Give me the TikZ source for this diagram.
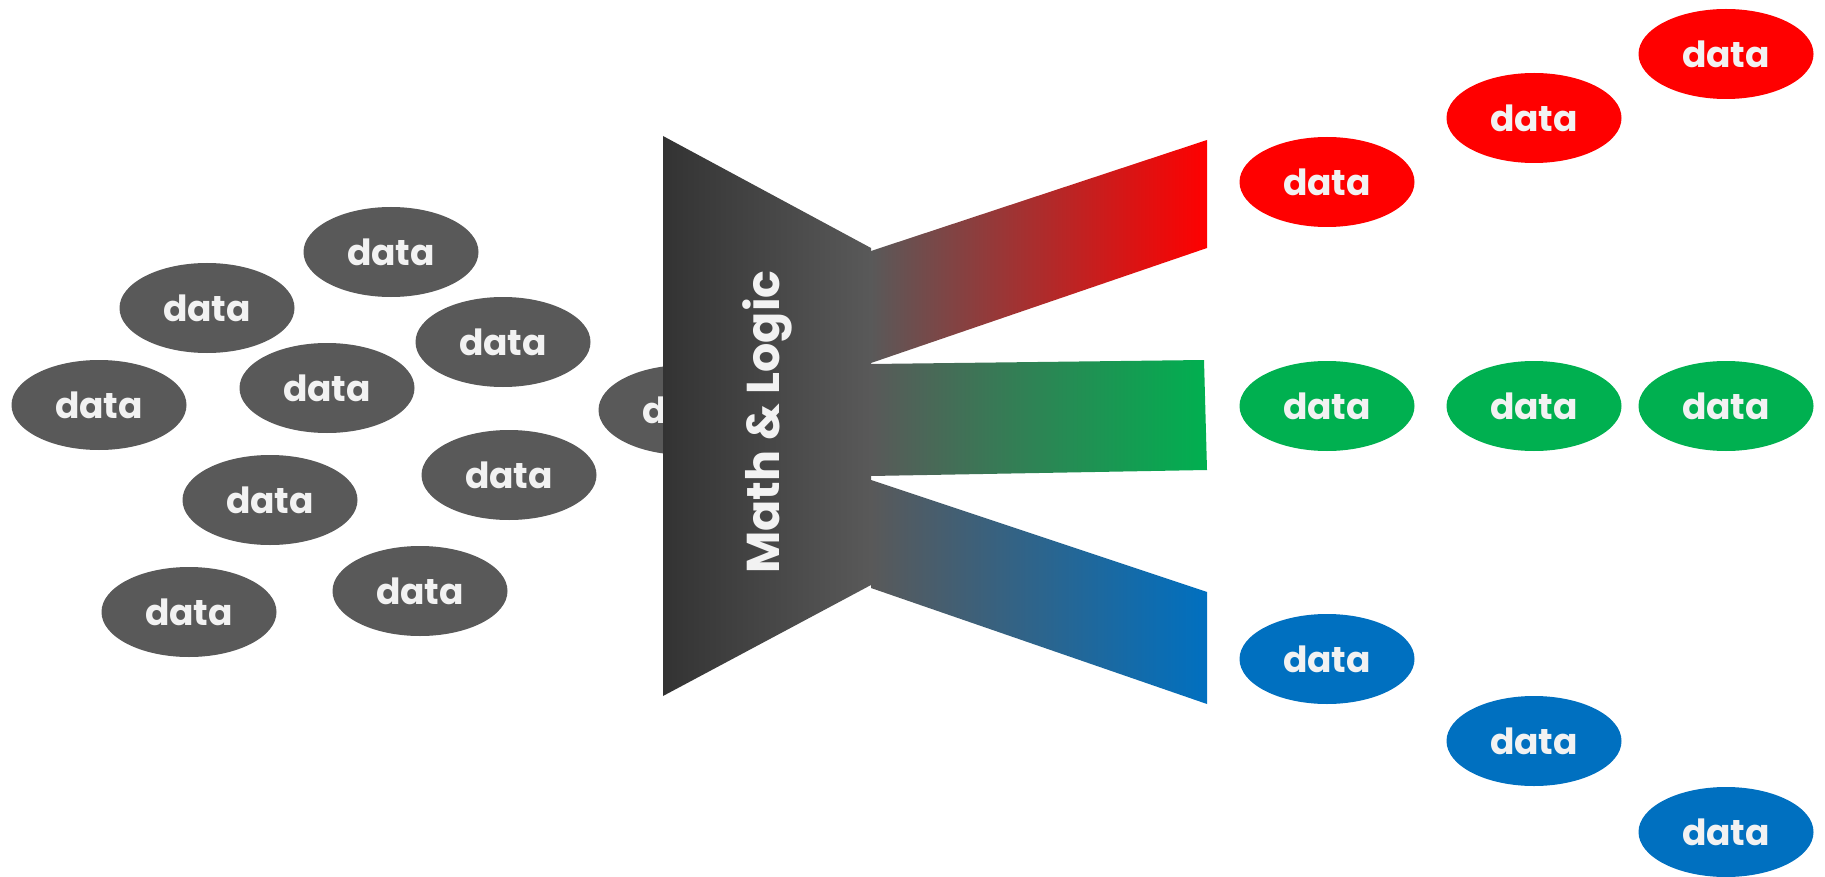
\documentclass[tikz,border=0pt]{standalone}
\usepackage{fontspec}
\setmainfont{Poppins}
\usetikzlibrary{shapes.geometric}
\definecolor{blobgray}{HTML}{595959}
\definecolor{funneldark}{HTML}{333333}
\definecolor{funnellight}{HTML}{595959}
\definecolor{labelwhite}{HTML}{F2F2F2}
\definecolor{outred}{HTML}{FF0000}
\definecolor{outgreen}{HTML}{00B050}
\definecolor{outblue}{HTML}{0070C0}
\begin{document}
\begin{tikzpicture}[x=1pt,y=-1pt,
  blob/.style={ellipse, minimum width=175pt, minimum height=90pt, inner sep=0pt,
    text=labelwhite, font=\fontsize{36}{36}\selectfont\bfseries},
  rawdata/.style={blob, fill=blobgray},
  reddata/.style={blob, fill=outred},
  greendata/.style={blob, fill=outgreen},
  bluedata/.style={blob, fill=outblue},
  band/.style={left color=funnellight}
]
\fill[white] (0,0) rectangle (1825,877);
\useasboundingbox (0,0) rectangle (1825,877);

% unsorted input data
\node[rawdata] (in1)  at (391,252) {data};
\node[rawdata] (in2)  at (207,308) {data};
\node[rawdata] (in3)  at (503,342) {data};
\node[rawdata] (in4)  at (327,388) {data};
\node[rawdata] (in5)  at (99,405)  {data};
\node[rawdata] (in6)  at (270,500) {data};
\node[rawdata] (in7)  at (509,475) {data};
\node[rawdata] (in8)  at (189,612) {data};
\node[rawdata] (in9)  at (420,591) {data};
\node[rawdata] (in10) at (686,410) {data};

% funnel outline
\coordinate (ftl) at (663,136);
\coordinate (fbl) at (663,696);
\coordinate (ftr) at (871,248);
\coordinate (fbr) at (871,585);
\shade[left color=funneldark, right color=funnellight]
  (ftl) -- (ftr) -- (fbr) -- (fbl) -- cycle;
\node[rotate=90, text=labelwhite, font=\fontsize{46}{46}\selectfont\bfseries]
  (logic) at (767,422) {Math \& Logic};

% output channels
\shade[band, right color=outred]
  (871,251) -- (1207,140) -- (1207,248) -- (871,363) -- cycle;
\shade[band, right color=outgreen]
  (871,364) -- (1204,360) -- (1207,470) -- (871,476) -- cycle;
\shade[band, right color=outblue]
  (871,480) -- (1207,592) -- (1207,704) -- (871,588) -- cycle;

% sorted output data
\node[reddata] (r1) at (1327,182) {data};
\node[reddata] (r2) at (1534,118) {data};
\node[reddata] (r3) at (1726,54)  {data};
\node[greendata] (g1) at (1327,406) {data};
\node[greendata] (g2) at (1534,406) {data};
\node[greendata] (g3) at (1726,406) {data};
\node[bluedata] (b1) at (1327,659) {data};
\node[bluedata] (b2) at (1534,741) {data};
\node[bluedata] (b3) at (1726,832) {data};
\end{tikzpicture}
\end{document}
